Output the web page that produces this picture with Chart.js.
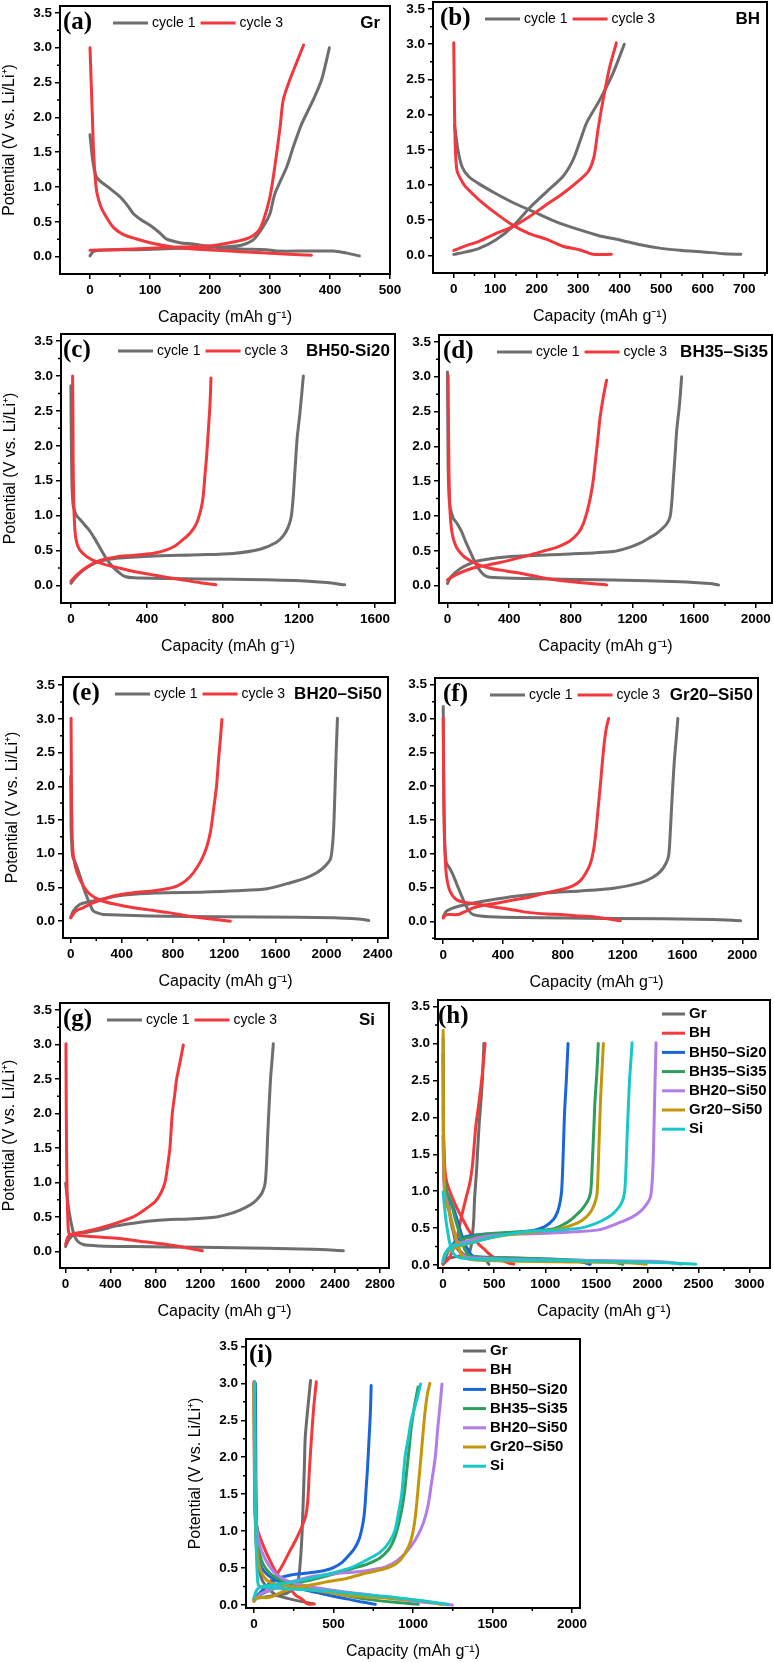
<!DOCTYPE html>
<html>
<head>
<meta charset="utf-8">
<script src="https://cdn.jsdelivr.net/npm/chart.js@4.4.1/dist/chart.umd.min.js"></script>
<style>
  html, body { margin: 0; padding: 0; background: #fff; }
  body { width: 774px; height: 1663px; position: relative; overflow: hidden; }
  canvas { position: absolute; }
</style>
</head>
<body>
<script>
// galvanostatic curves: [capacity (mAh/g), potential (V)]
// Gr
const gr1Dis = [[0,1.75],[5,1.35],[11,1.14],[22,1.05],[33,0.98],[50,0.86],[62,0.74],[72,0.62],[85,0.53],[100,0.45],[115,0.35],[128,0.25],[150,0.2],[172,0.18],[211,0.13],[250,0.11],[294,0.1],[311,0.08],[360,0.08],[405,0.08],[428,0.05],[449,0.01]];
const gr1Chg = [[0,0.01],[5,0.07],[15,0.09],[80,0.1],[150,0.12],[200,0.13],[250,0.16],[272,0.24],[290,0.45],[300,0.62],[308,0.9],[328,1.29],[339,1.58],[353,1.91],[372,2.25],[386,2.54],[399,3.0]];
const gr3Dis = [[0,3.0],[2,2.5],[4,2.0],[6,1.5],[9,1.1],[12,0.9],[18,0.72],[25,0.6],[39,0.42],[55,0.32],[75,0.26],[100,0.2],[130,0.15],[156,0.12],[211,0.09],[294,0.05],[369,0.02]];
const gr3Chg = [[0,0.09],[72,0.11],[128,0.13],[206,0.16],[239,0.21],[265,0.27],[280,0.36],[289,0.52],[300,0.86],[308,1.29],[317,1.87],[322,2.25],[333,2.54],[344,2.78],[356,3.04]];
// BH
const bh1Dis = [[2,1.85],[10,1.5],[20,1.26],[36,1.12],[60,1.02],[101,0.88],[150,0.73],[200,0.6],[250,0.47],[300,0.37],[350,0.28],[400,0.22],[450,0.15],[500,0.1],[550,0.07],[600,0.05],[650,0.025],[692,0.015]];
const bh1Chg = [[0,0.015],[30,0.05],[61,0.1],[101,0.22],[142,0.41],[182,0.67],[223,0.9],[263,1.12],[287,1.35],[303,1.6],[320,1.88],[352,2.21],[384,2.59],[411,3.0]];
const bh3Dis = [[0,3.02],[1,2.5],[2,2.0],[4,1.5],[8,1.2],[20,1.05],[28,0.98],[61,0.79],[101,0.6],[142,0.43],[182,0.31],[223,0.23],[263,0.13],[303,0.08],[336,0.015],[380,0.015]];
const bh3Chg = [[0,0.07],[30,0.14],[61,0.2],[101,0.31],[142,0.41],[182,0.55],[223,0.72],[263,0.88],[303,1.07],[325,1.2],[338,1.4],[348,1.8],[360,2.21],[376,2.68],[392,3.02]];
// BH50-Si20
const bs5020_1Dis = [[0,2.86],[2,2.2],[5,1.52],[10,1.2],[16,1.1],[30,1.0],[47,0.95],[75,0.86],[100,0.78],[130,0.65],[153,0.54],[190,0.37],[223,0.26],[260,0.17],[284,0.13],[330,0.11],[500,0.1],[854,0.09],[1205,0.07],[1346,0.043],[1440,0.01]];
const bs5020_1Chg = [[0,0.03],[20,0.1],[65,0.22],[110,0.3],[153,0.35],[240,0.39],[416,0.42],[679,0.44],[854,0.46],[995,0.52],[1082,0.62],[1120,0.72],[1145,0.85],[1160,1.0],[1170,1.28],[1180,1.7],[1190,2.1],[1205,2.47],[1223,3.0]];
const bs5020_3Dis = [[9,3.0],[11,2.4],[12,1.76],[15,1.2],[21,0.8],[30,0.62],[47,0.51],[80,0.42],[118,0.36],[180,0.3],[240,0.26],[330,0.2],[416,0.16],[500,0.12],[591,0.08],[680,0.04],[763,0.01]];
const bs5020_3Chg = [[0,0.06],[30,0.15],[82,0.26],[153,0.36],[240,0.41],[320,0.43],[398,0.45],[450,0.47],[503,0.51],[550,0.57],[591,0.66],[630,0.76],[661,0.89],[685,1.1],[696,1.28],[706,1.6],[714,1.85],[725,2.3],[732,2.6],[737,2.97]];
// BH35-Si35
const bs3535_1Dis = [[0,3.07],[2,2.4],[4,1.76],[8,1.4],[15,1.15],[37,0.97],[60,0.9],[91,0.78],[120,0.62],[145,0.5],[180,0.33],[210,0.22],[240,0.15],[275,0.12],[426,0.105],[1076,0.08],[1509,0.057],[1700,0.03],[1758,0.01]];
const bs3535_1Chg = [[0,0.03],[20,0.12],[80,0.24],[150,0.32],[210,0.36],[426,0.42],[751,0.45],[1076,0.49],[1180,0.55],[1249,0.61],[1320,0.7],[1357,0.75],[1420,0.88],[1444,0.99],[1455,1.2],[1465,1.52],[1477,1.9],[1487,2.23],[1505,2.6],[1519,3.0]];
const bs3535_3Dis = [[4,3.02],[6,2.4],[9,1.76],[14,1.2],[22,0.89],[35,0.7],[58,0.55],[100,0.43],[145,0.36],[200,0.3],[275,0.25],[380,0.21],[491,0.17],[600,0.12],[708,0.08],[870,0.04],[1033,0.01]];
const bs3535_3Chg = [[0,0.08],[50,0.15],[123,0.22],[200,0.27],[318,0.32],[430,0.38],[535,0.44],[630,0.5],[708,0.55],[794,0.64],[850,0.76],[881,0.89],[910,1.1],[930,1.3],[946,1.52],[960,1.8],[975,2.1],[989,2.4],[1010,2.7],[1032,2.95]];
// BH20-Si50
const bs2050_1Dis = [[0,2.15],[2,1.8],[3,1.41],[8,1.15],[16,0.96],[40,0.85],[73,0.67],[100,0.5],[125,0.37],[150,0.25],[177,0.15],[220,0.115],[256,0.1],[752,0.074],[1500,0.06],[2056,0.05],[2250,0.03],[2330,0.01]];
const bs2050_1Chg = [[0,0.05],[20,0.15],[73,0.25],[150,0.29],[230,0.32],[350,0.37],[491,0.4],[750,0.42],[1013,0.43],[1300,0.45],[1535,0.48],[1717,0.57],[1850,0.65],[1926,0.72],[1990,0.82],[2030,0.92],[2045,1.1],[2056,1.4],[2065,1.9],[2075,2.5],[2085,3.01]];
const bs2050_3Dis = [[3,3.01],[5,2.3],[7,1.8],[10,1.41],[15,1.1],[26,0.91],[50,0.72],[99,0.52],[150,0.4],[230,0.31],[350,0.25],[491,0.2],[640,0.16],[752,0.13],[900,0.08],[1013,0.05],[1150,0.02],[1248,0.0]];
const bs2050_3Chg = [[0,0.05],[40,0.15],[99,0.2],[160,0.26],[230,0.31],[350,0.38],[491,0.42],[650,0.45],[752,0.48],[830,0.52],[900,0.6],[960,0.72],[1020,0.9],[1065,1.11],[1095,1.35],[1117,1.66],[1140,2.0],[1156,2.4],[1170,2.7],[1182,2.99]];
// Gr20-Si50
const gs2050_1Dis = [[0,3.18],[2,2.5],[4,1.9],[8,1.3],[14,1.0],[22,0.86],[45,0.78],[67,0.68],[100,0.5],[134,0.32],[165,0.18],[201,0.1],[358,0.064],[1140,0.044],[1800,0.03],[1989,0.01]];
const gs2050_1Chg = [[0,0.07],[20,0.15],[67,0.2],[150,0.25],[246,0.29],[350,0.33],[469,0.37],[693,0.42],[916,0.45],[1140,0.49],[1318,0.57],[1400,0.65],[1453,0.74],[1490,0.86],[1508,0.98],[1518,1.3],[1525,1.6],[1535,2.0],[1546,2.39],[1558,2.7],[1569,3.0]];
const gs2050_3Dis = [[0,3.0],[2,2.3],[4,1.8],[7,1.4],[12,1.0],[22,0.67],[45,0.45],[89,0.32],[150,0.28],[246,0.25],[350,0.21],[469,0.17],[580,0.13],[693,0.11],[805,0.1],[916,0.08],[1000,0.07],[1100,0.04],[1184,0.01]];
const gs2050_3Chg = [[0,0.05],[10,0.08],[22,0.1],[80,0.1],[112,0.11],[150,0.15],[201,0.2],[270,0.24],[358,0.27],[450,0.31],[581,0.36],[700,0.43],[805,0.48],[870,0.53],[916,0.6],[950,0.7],[983,0.85],[1005,1.05],[1020,1.3],[1035,1.65],[1050,2.0],[1062,2.3],[1075,2.6],[1090,2.85],[1106,3.0]];
// Si
const si1Dis = [[0,0.99],[10,0.85],[24,0.65],[45,0.45],[68,0.28],[100,0.16],[157,0.1],[300,0.08],[603,0.07],[1200,0.06],[1791,0.045],[2200,0.03],[2474,0.01]];
const si1Chg = [[0,0.07],[20,0.15],[68,0.24],[150,0.27],[306,0.31],[450,0.37],[603,0.41],[750,0.44],[900,0.46],[1100,0.47],[1345,0.5],[1450,0.54],[1553,0.6],[1650,0.68],[1702,0.75],[1750,0.85],[1777,0.99],[1790,1.3],[1800,1.7],[1812,2.1],[1825,2.5],[1835,2.7],[1850,3.01]];
const si3Dis = [[3,3.01],[5,2.3],[7,1.8],[9,1.37],[14,0.8],[24,0.31],[35,0.25],[68,0.24],[200,0.22],[454,0.19],[700,0.14],[900,0.1],[1050,0.06],[1218,0.01]];
const si3Chg = [[0,0.1],[20,0.21],[53,0.25],[150,0.28],[306,0.34],[450,0.41],[603,0.5],[700,0.6],[796,0.72],[850,0.85],[885,1.0],[905,1.2],[929,1.5],[950,2.0],[970,2.25],[989,2.5],[1020,2.75],[1048,2.99]];

// labels
const cycleLabels = ['cycle 1', 'cycle 3'];
const sampleNames = ['Gr', 'BH', 'BH50–Si20', 'BH35–Si35', 'BH20–Si50', 'Gr20–Si50', 'Si'];
const panelNames = ['Gr', 'BH', 'BH50-Si20', 'BH35–Si35', 'BH20–Si50', 'Gr20–Si50', 'Si'];

// tick labels
const yTicks = [0, 0.5, 1, 1.5, 2, 2.5, 3, 3.5];
const xTicksA = [0, 100, 200, 300, 400, 500];
const xTicksB = [0, 100, 200, 300, 400, 500, 600, 700];
const xTicksC = [0, 400, 800, 1200, 1600];
const xTicksD = [0, 400, 800, 1200, 1600, 2000];
const xTicksE = [0, 400, 800, 1200, 1600, 2000, 2400];
const xTicksG = [0, 400, 800, 1200, 1600, 2000, 2400, 2800];
const xTicksH = [0, 500, 1000, 1500, 2000, 2500, 3000];
const xTicksI = [0, 500, 1000, 1500, 2000];

const samples = [
    { c1: [gr1Dis, gr1Chg], c3: [gr3Dis, gr3Chg] },
    { c1: [bh1Dis, bh1Chg], c3: [bh3Dis, bh3Chg] },
    { c1: [bs5020_1Dis, bs5020_1Chg], c3: [bs5020_3Dis, bs5020_3Chg] },
    { c1: [bs3535_1Dis, bs3535_1Chg], c3: [bs3535_3Dis, bs3535_3Chg] },
    { c1: [bs2050_1Dis, bs2050_1Chg], c3: [bs2050_3Dis, bs2050_3Chg] },
    { c1: [gs2050_1Dis, gs2050_1Chg], c3: [gs2050_3Dis, gs2050_3Chg] },
    { c1: [si1Dis, si1Chg], c3: [si3Dis, si3Chg] }
];

const SANS = '"Liberation Sans", Arial, sans-serif';
const SERIF = '"Liberation Serif", "Times New Roman", serif';
const GRAY = '#6e6e6e';
const RED = '#f2383d';
const mixColors = ['#6b6b6b', '#f23a3a', '#1a66d9', '#2e9e5b', '#b27de6', '#c4960c', '#19c7c7'];

// page layout (plot-area boxes in page pixels)
const AX_W = 60, AX_H = 53, PAD_T = 14, PAD_R = 24;
const panels = [
    { tag: '(a)', s: 0, L: 60, T: 6, R: 390, B: 274, xMin: -50, xMax: 500, xt: xTicksA, yMin: -0.25, yMax: 3.6, yTitle: true, tagDx: 3, legDx: 53, nameDx: 10 },
    { tag: '(b)', s: 1, L: 433, T: 2, R: 767, B: 273, xMin: -50, xMax: 755, xt: xTicksB, yMin: -0.25, yMax: 3.6, yTitle: false, tagDx: 7, legDx: 52, nameDx: 7 },
    { tag: '(c)', s: 2, L: 61, T: 334, R: 395, B: 603, xMin: -52, xMax: 1705, xt: xTicksC, yMin: -0.25, yMax: 3.6, yTitle: true, tagDx: 2, legDx: 57, nameDx: 5 },
    { tag: '(d)', s: 3, L: 439, T: 335, R: 772, B: 603, xMin: -55, xMax: 2105, xt: xTicksD, yMin: -0.25, yMax: 3.6, yTitle: false, tagDx: 4, legDx: 58, nameDx: 4 },
    { tag: '(e)', s: 4, L: 63, T: 677, R: 388, B: 938, xMin: -60, xMax: 2480, xt: xTicksE, yMin: -0.25, yMax: 3.62, yTitle: true, tagDx: 9, legDx: 52, nameDx: 6 },
    { tag: '(f)', s: 5, L: 435, T: 678, R: 758, B: 939, xMin: -55, xMax: 2105, xt: xTicksD, yMin: -0.26, yMax: 3.6, yTitle: false, tagDx: 8, legDx: 55, nameDx: 5 },
    { tag: '(g)', s: 6, L: 60, T: 1003, R: 389, B: 1268, xMin: -50, xMax: 2880, xt: xTicksG, yMin: -0.24, yMax: 3.6, yTitle: true, tagDx: 3, legDx: 47, nameDx: 14 },
    { tag: '(h)', cyc: 'c1', L: 438, T: 1000, R: 770, B: 1268, xMin: -50, xMax: 3200, xt: xTicksH, yMin: -0.04, yMax: 3.59, yTitle: false, tagDx: 0, colDx: 108, colDy: 14 },
    { tag: '(i)', cyc: 'c3', L: 246, T: 1339, R: 580, B: 1608, xMin: -50, xMax: 2050, xt: xTicksI, yMin: -0.04, yMax: 3.6, yTitle: true, tagDx: 3, colDx: 117, colDy: 12 }
];

// discharge + gap + charge as one line
function toPoints(curve) {
    const [dis, chg] = curve;
    return dis.map(([x, y]) => ({ x, y }))
        .concat([{ x: null, y: null }])
        .concat(chg.map(([x, y]) => ({ x, y })));
}

function minorValues(scale) {
    const t = scale.ticks.map(k => k.value);
    const step = t[1] - t[0];
    const out = [];
    for (let v = t[0] - step / 2; v < scale.max; v += step) {
        if (v > scale.min) out.push(v);
    }
    return out;
}

// frame, minor ticks, panel tag, legends, sample name
const decoPlugin = {
    id: 'deco',
    afterDatasetsDraw(chart, args, opts) {
        const { ctx, chartArea: a, scales: { x, y } } = chart;
        ctx.save();
        ctx.strokeStyle = '#000';
        ctx.lineWidth = 2;
        ctx.strokeRect(a.left, a.top, a.right - a.left, a.bottom - a.top);

        ctx.lineWidth = 1.5;
        ctx.beginPath();
        minorValues(x).forEach(v => {
            const p = x.getPixelForValue(v);
            ctx.moveTo(p, a.bottom); ctx.lineTo(p, a.bottom + 3);
        });
        minorValues(y).forEach(v => {
            const p = y.getPixelForValue(v);
            ctx.moveTo(a.left, p); ctx.lineTo(a.left - 3, p);
        });
        ctx.stroke();

        ctx.fillStyle = '#000';
        ctx.textBaseline = 'middle';
        ctx.textAlign = 'left';
        ctx.font = 'bold 25px ' + SERIF;
        ctx.fillText(opts.tag, a.left + opts.tagDx, a.top + 17);

        const sets = chart.data.datasets;
        ctx.lineCap = 'butt';
        if (opts.mode === 'row') {
            let cx = a.left + opts.legDx;
            const cy = a.top + 17;
            ctx.font = '14px ' + SANS;
            sets.forEach(ds => {
                ctx.strokeStyle = ds.borderColor;
                ctx.lineWidth = 3;
                ctx.beginPath(); ctx.moveTo(cx, cy); ctx.lineTo(cx + 35, cy); ctx.stroke();
                ctx.fillText(ds.label, cx + 39, cy);
                cx += 39 + ctx.measureText(ds.label).width + 5;
            });
            ctx.font = 'bold 17px ' + SANS;
            ctx.textAlign = 'right';
            ctx.fillText(opts.name, a.right - opts.nameDx, cy);
        } else {
            const x0 = a.right - opts.colDx;
            ctx.font = 'bold 15px ' + SANS;
            sets.forEach((ds, i) => {
                const cy = a.top + opts.colDy + i * 19.2;
                ctx.strokeStyle = ds.borderColor;
                ctx.lineWidth = 3;
                ctx.beginPath(); ctx.moveTo(x0, cy); ctx.lineTo(x0 + 23, cy); ctx.stroke();
                ctx.fillText(ds.label, x0 + 27, cy);
            });
        }
        ctx.restore();
    }
};

function lineSet(label, curve, color, i) {
    return {
        label: label,
        data: toPoints(curve),
        borderColor: color,
        backgroundColor: color,
        borderWidth: 3,
        pointRadius: 0,
        tension: 0.25,
        spanGaps: false,
        borderJoinStyle: 'round',
        borderCapStyle: 'round',
        order: -i
    };
}

function buildPanel(p) {
    let datasets;
    if (p.cyc) {
        datasets = sampleNames.map((n, i) => lineSet(n, samples[i][p.cyc], mixColors[i], i));
    } else {
        const s = samples[p.s];
        datasets = [lineSet(cycleLabels[0], s.c1, GRAY, 0), lineSet(cycleLabels[1], s.c3, RED, 1)];
    }

    const cv = document.createElement('canvas');
    const w = Math.round(p.R - p.L) + AX_W + PAD_R;
    const h = PAD_T + Math.round(p.B - p.T) + AX_H;
    cv.width = w; cv.height = h;
    cv.style.width = w + 'px'; cv.style.height = h + 'px';
    cv.style.left = (Math.round(p.L) - AX_W) + 'px';
    cv.style.top = (Math.round(p.T) - PAD_T) + 'px';
    document.body.appendChild(cv);

    const tickFont = { family: SANS, size: 13.5, weight: 'bold' };
    const gridOpts = { drawOnChartArea: false, drawTicks: true, tickLength: 5, color: '#000', lineWidth: 1.5 };

    new Chart(cv, {
        type: 'line',
        data: { datasets: datasets },
        options: {
            responsive: false,
            maintainAspectRatio: false,
            animation: false,
            devicePixelRatio: 1,
            layout: { padding: { left: 0, top: PAD_T, right: PAD_R, bottom: 0 } },
            plugins: {
                legend: { display: false },
                tooltip: { enabled: false },
                deco: p.cyc
                    ? { tag: p.tag, mode: 'col', colDx: p.colDx, colDy: p.colDy, tagDx: p.tagDx }
                    : { tag: p.tag, mode: 'row', name: panelNames[p.s], tagDx: p.tagDx, legDx: p.legDx, nameDx: p.nameDx }
            },
            scales: {
                x: {
                    type: 'linear',
                    min: p.xMin,
                    max: p.xMax,
                    afterBuildTicks: s => { s.ticks = p.xt.map(v => ({ value: v })); },
                    afterFit: s => { s.height = AX_H; },
                    ticks: { autoSkip: false, maxRotation: 0, padding: 3, color: '#000', font: tickFont, callback: v => String(v) },
                    grid: gridOpts,
                    border: { display: false },
                    title: { display: true, text: 'Capacity (mAh g⁻¹)', color: '#000', font: { family: SANS, size: 16 }, padding: 0 }
                },
                y: {
                    type: 'linear',
                    min: p.yMin,
                    max: p.yMax,
                    afterBuildTicks: s => { s.ticks = yTicks.map(v => ({ value: v })); },
                    afterFit: s => { s.width = AX_W; },
                    ticks: { autoSkip: false, padding: 3, color: '#000', font: tickFont, callback: v => Number(v).toFixed(1) },
                    grid: gridOpts,
                    border: { display: false },
                    title: { display: p.yTitle, text: 'Potential (V vs. Li/Li⁺)', color: '#000', font: { family: SANS, size: 16 }, padding: 0 }
                }
            }
        },
        plugins: [decoPlugin]
    });
}

panels.forEach(buildPanel);
</script>
</body>
</html>
